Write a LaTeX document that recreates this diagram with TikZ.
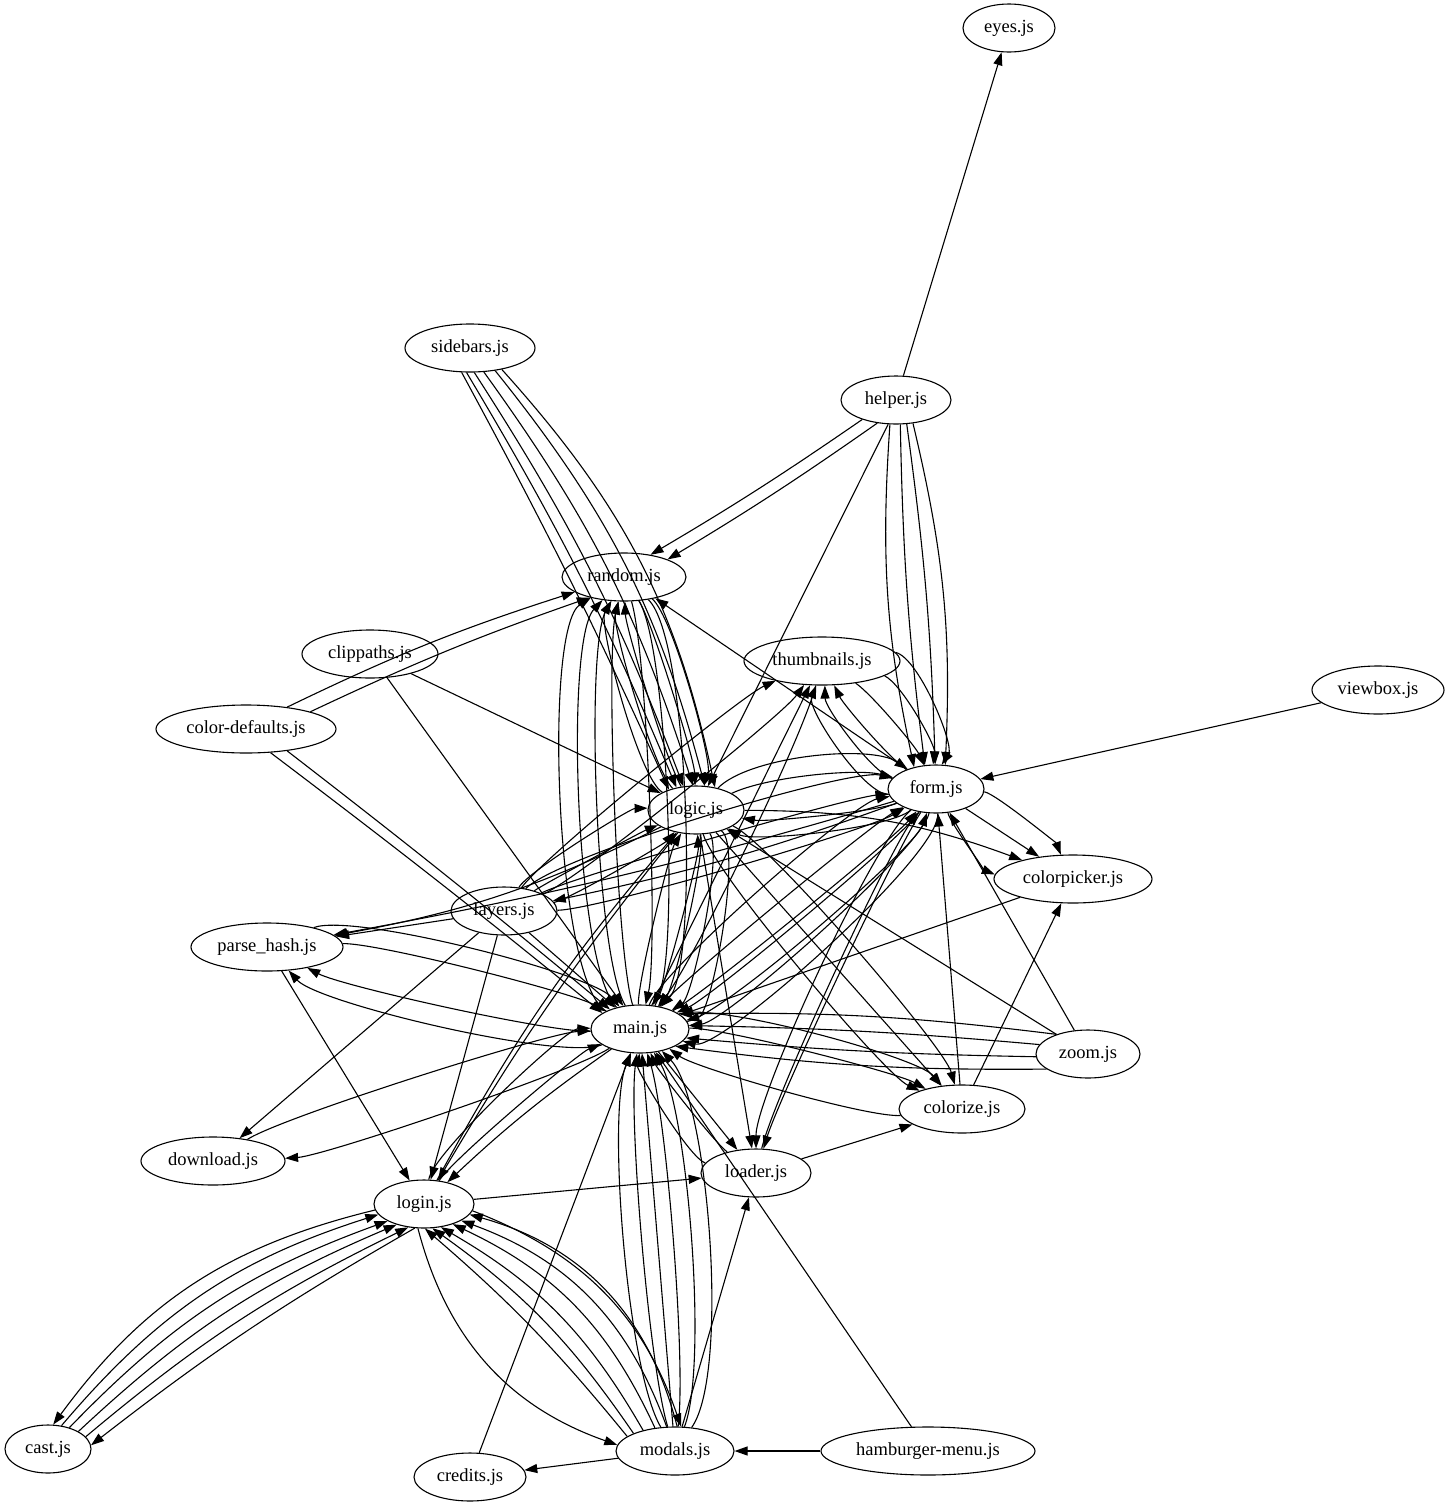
\documentclass[tikz,border=0pt]{standalone}
\usepackage{fontspec}
\setmainfont{Liberation Serif}
\usetikzlibrary{shapes.geometric,arrows.meta}
\tikzset{
  nd/.style={draw, ellipse, line width=1.1pt, inner sep=0pt, minimum height=48pt, font=\fontsize{18.5}{22}\selectfont},
  e/.style={-{Triangle[length=13pt,width=9pt]}, line width=1.1pt},
}
\newcommand{\medge}[4][0.4]{\foreach \bv in {#4} {\draw[e] (#2) to[bend left=\bv, looseness=#1] (#3);}}
\begin{document}
\begin{tikzpicture}[x=1pt,y=-1pt]
\useasboundingbox (0,0) rectangle (1450,1508);
\node[nd,minimum width=92pt] (eyes) at (1009,28) {eyes.js};
\node[nd,minimum width=130pt] (sidebars) at (470,348) {sidebars.js};
\node[nd,minimum width=110pt] (helper) at (896,400) {helper.js};
\node[nd,minimum width=124pt] (random) at (624,577) {random.js};
\node[nd,minimum width=136pt] (clippaths) at (370,654) {clippaths.js};
\node[nd,minimum width=156pt] (thumbnails) at (822,661) {thumbnails.js};
\node[nd,minimum width=132pt] (viewbox) at (1378,690) {viewbox.js};
\node[nd,minimum width=180pt] (colordefaults) at (246,729) {color-defaults.js};
\node[nd,minimum width=96pt] (form) at (936,789) {form.js};
\node[nd,minimum width=96pt] (logic) at (696,810) {logic.js};
\node[nd,minimum width=158pt] (colorpicker) at (1073,879) {colorpicker.js};
\node[nd,minimum width=106pt] (layers) at (504,911) {layers.js};
\node[nd,minimum width=152pt] (parsehash) at (267,947) {parse\_hash.js};
\node[nd,minimum width=98pt] (main) at (640,1029) {main.js};
\node[nd,minimum width=104pt] (zoom) at (1088,1054) {zoom.js};
\node[nd,minimum width=126pt] (colorize) at (962,1109) {colorize.js};
\node[nd,minimum width=144pt] (download) at (213,1161) {download.js};
\node[nd,minimum width=110pt] (loader) at (756,1173) {loader.js};
\node[nd,minimum width=100pt] (login) at (424,1204) {login.js};
\node[nd,minimum width=86pt] (cast) at (48,1449) {cast.js};
\node[nd,minimum width=118pt] (modals) at (675,1451) {modals.js};
\node[nd,minimum width=214pt] (hamburger) at (928,1451) {hamburger-menu.js};
\node[nd,minimum width=112pt] (credits) at (470,1477) {credits.js};

% helper
\draw[e] (helper) -- (eyes);
\draw[e] (helper.210) to[bend left=2] (random.40);
\draw[e] (helper.231) to[bend left=2] (random.22);
\draw[e] (helper.252) -- (logic);
\draw[e] (helper.256) to[bend left=-8] (form.135);
\draw[e] (helper.280) to[bend left=-3] (form.115);
\draw[e] (helper.294) to[bend left=3] (form.92);
\draw[e] (helper.306) to[bend left=8] (form.69);
% sidebars
\draw[e] (sidebars.251) to[bend left=2] (logic.143);
\draw[e] (sidebars.262) to[bend left=4] (logic.131);
\draw[e] (sidebars.280) to[bend left=6] (logic.118);
\draw[e] (sidebars.300) to[bend left=9] (logic.97);
\draw[e] (sidebars.318) to[bend left=12] (logic.70);
\draw[e] (sidebars.326) to[bend left=15] (logic.50);
% color-defaults, clippaths
\draw[e] (colordefaults.28) to[bend left=4] (random.197);
\draw[e] (colordefaults.15) to[bend left=3] (random.211);
\draw[e] (colordefaults.316) to[bend left=1] (main.157);
\draw[e] (colordefaults.332) to[bend left=1] (main.147);
\draw[e] (clippaths) -- (logic);
\draw[e] (clippaths) -- (main);
% random / logic / main
\medge[0.35]{main}{random}{15,30,45,60}
\medge[0.35]{random}{main}{15,30,45}
\medge[0.35]{logic}{random}{15,30,45}
\medge[0.35]{random}{logic}{15,35}
\draw[e] (form) -- (random);
% thumbnails
\medge[0.5]{form}{thumbnails}{15,35,55}
\medge[0.5]{thumbnails}{form}{15,35,55}
\medge[0.3]{layers}{thumbnails}{-15,15}
\draw[e] (main) -- (thumbnails);
\medge[0.4]{thumbnails}{main}{12}
% form
\draw[e] (viewbox) -- (form);
\medge[0.6]{logic}{form}{20,40}
\medge[0.4]{form}{logic}{15,35}
\medge[0.3]{form}{colorpicker}{-30,0,30}
\draw[e] (logic) to[bend left=10] (colorpicker);
\draw[e] (colorpicker) -- (main);
\draw[e] (colorize) -- (colorpicker);
\draw[e] (colorize) -- (form);
% zoom
\draw[e] (zoom) -- (form);
\draw[e] (zoom) -- (logic);
\draw[e] (zoom.148) to[bend left=-4] (main.21);
\draw[e] (zoom.169) to[bend left=-2] (main.4);
\draw[e] (zoom.183) to[bend left=2] (main.349);
\draw[e] (zoom.200) to[bend left=4] (main.334);
% colorize / loader
\medge[0.3]{logic}{colorize}{-25,0,25}
\medge[0.35]{main}{colorize}{15,35}
\medge[0.35]{colorize}{main}{20}
\draw[e] (main) -- (loader);
\draw[e] (logic) -- (loader);
\medge[0.35]{form}{loader}{-25,-8}
\medge[0.35]{loader}{form}{12}
\draw[e] (loader) -- (colorize);
\medge[0.35]{loader}{main}{15,40}
\draw[e] (login) -- (loader);
\draw[e] (modals) -- (loader);
\draw[e] (hamburger) -- (main);
\draw[e] (hamburger) -- (modals);
% login
\draw[e] (parsehash) -- (login);
\draw[e] (layers) -- (login);
\draw[e] (logic) to[bend left=-4] (login);
\draw[e] (main) to[bend left=-4] (login);
\medge[0.3]{login}{main}{18,40}
\draw[e] (login) to[bend left=6] (logic);
% cast
\draw[e] (login.187) to[bend right=20] (cast.78);
\draw[e] (cast.60) to[bend left=16] (login.193);
\draw[e] (cast.45) to[bend left=13] (login.205);
\draw[e] (cast.30) to[bend left=10] (login.217);
\draw[e] (cast.18) to[bend left=7] (login.236);
\draw[e] (login.249) to[bend right=4] (cast.5);
% modals
\draw[e] (modals.85) to[bend right=30] (login.347);
\draw[e] (modals.109) to[bend right=25] (login.336);
\draw[e] (modals.131) to[bend right=20] (login.325);
\draw[e] (modals.147) to[bend right=15] (login.306);
\draw[e] (modals.157) to[bend right=10] (login.289);
\draw[e] (modals.163) to[bend right=5] (login.272);
\draw[e] (login.256) to[bend right=28] (modals.174);
\draw[e] (login.352) to[bend left=25] (modals.76);
\medge[0.45]{modals}{main}{-40,-26,-12,0,12,26}
\draw[e] (modals) -- (credits);
\draw[e] (credits) -- (main);
% parse_hash, layers, download
\draw[e] (layers) -- (parsehash);
\draw[e] (logic) to[bend left=8] (parsehash);
\draw[e] (form) to[bend left=3] (parsehash);
\medge[0.35]{main}{parsehash}{15,35}
\medge[0.35]{parsehash}{main}{15,35}
\medge[0.3]{layers}{logic}{-18,6,30}
\medge[0.3]{layers}{form}{-15,10,30}
\draw[e] (form) to[bend left=4] (layers);
\draw[e] (layers) -- (main);
\draw[e] (layers) -- (download);
\medge[0.3]{main}{download}{15}
\medge[0.3]{download}{main}{15}
\medge[0.3]{main}{form}{-30,-10,10,30}
\medge[0.3]{form}{main}{15,35,55}
\medge[0.3]{main}{logic}{-18,18}
\medge[0.35]{logic}{main}{25,45,65}
\end{tikzpicture}
\end{document}
